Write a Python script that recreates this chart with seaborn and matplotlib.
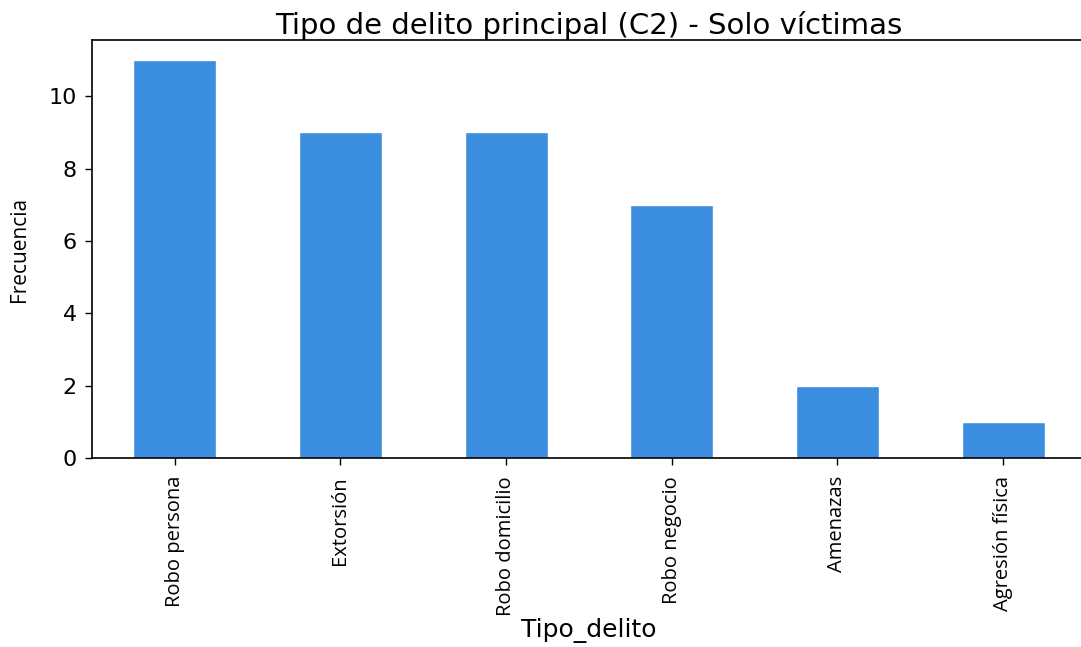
import matplotlib
matplotlib.use("Agg")
import matplotlib.pyplot as plt
import seaborn as sns
import pandas as pd

tipos = ["Robo persona", "Extorsión", "Robo domicilio", "Robo negocio", "Amenazas", "Agresión física"]
frecuencias = [11, 9, 9, 7, 2, 1]

sns.set_style("ticks")
plt.rcParams["font.family"] = ["DejaVu Sans"]
plt.rcParams["text.color"] = "black"
plt.rcParams["axes.labelcolor"] = "black"
plt.rcParams["xtick.color"] = "black"
plt.rcParams["ytick.color"] = "black"

humanist = ["Open Sans", "DejaVu Sans"]

df = pd.DataFrame({"Tipo_delito": tipos, "Frecuencia": frecuencias})

fig = plt.figure(figsize=(10.81, 6.47), dpi=100)
# axes runs past the right edge, as in the cropped reference
ax = fig.add_axes([0.0851, 0.2921, 0.9195, 0.646])

sns.barplot(data=df, x="Tipo_delito", y="Frecuencia", order=tipos,
            color="#3a8ddf", saturation=1, width=0.5, ax=ax)

ax.set_xlim(-0.5, len(tipos) - 0.5)
ax.set_ylim(0, max(frecuencias) * 1.05)
ax.set_yticks([0, 2, 4, 6, 8, 10])
ax.tick_params(axis="y", labelsize=16, length=5, width=1, pad=6)
ax.tick_params(axis="x", length=5, width=1, pad=8)
ax.set_xticks(range(len(tipos)))
ax.set_xticklabels(tipos, rotation=90, fontsize=14.5, family=humanist)

for s in ax.spines.values():
    s.set_color("black")
    s.set_linewidth(1.2)
ax.spines["right"].set_visible(False)

ax.set_title("Tipo de delito principal (C2) - Solo víctimas", fontsize=21, pad=4)
ax.set_ylabel("Frecuencia", fontsize=15, family=humanist, labelpad=13)
ax.set_xlabel("Tipo_delito", fontsize=18, labelpad=2)

fig.savefig("out.png", dpi=100)
